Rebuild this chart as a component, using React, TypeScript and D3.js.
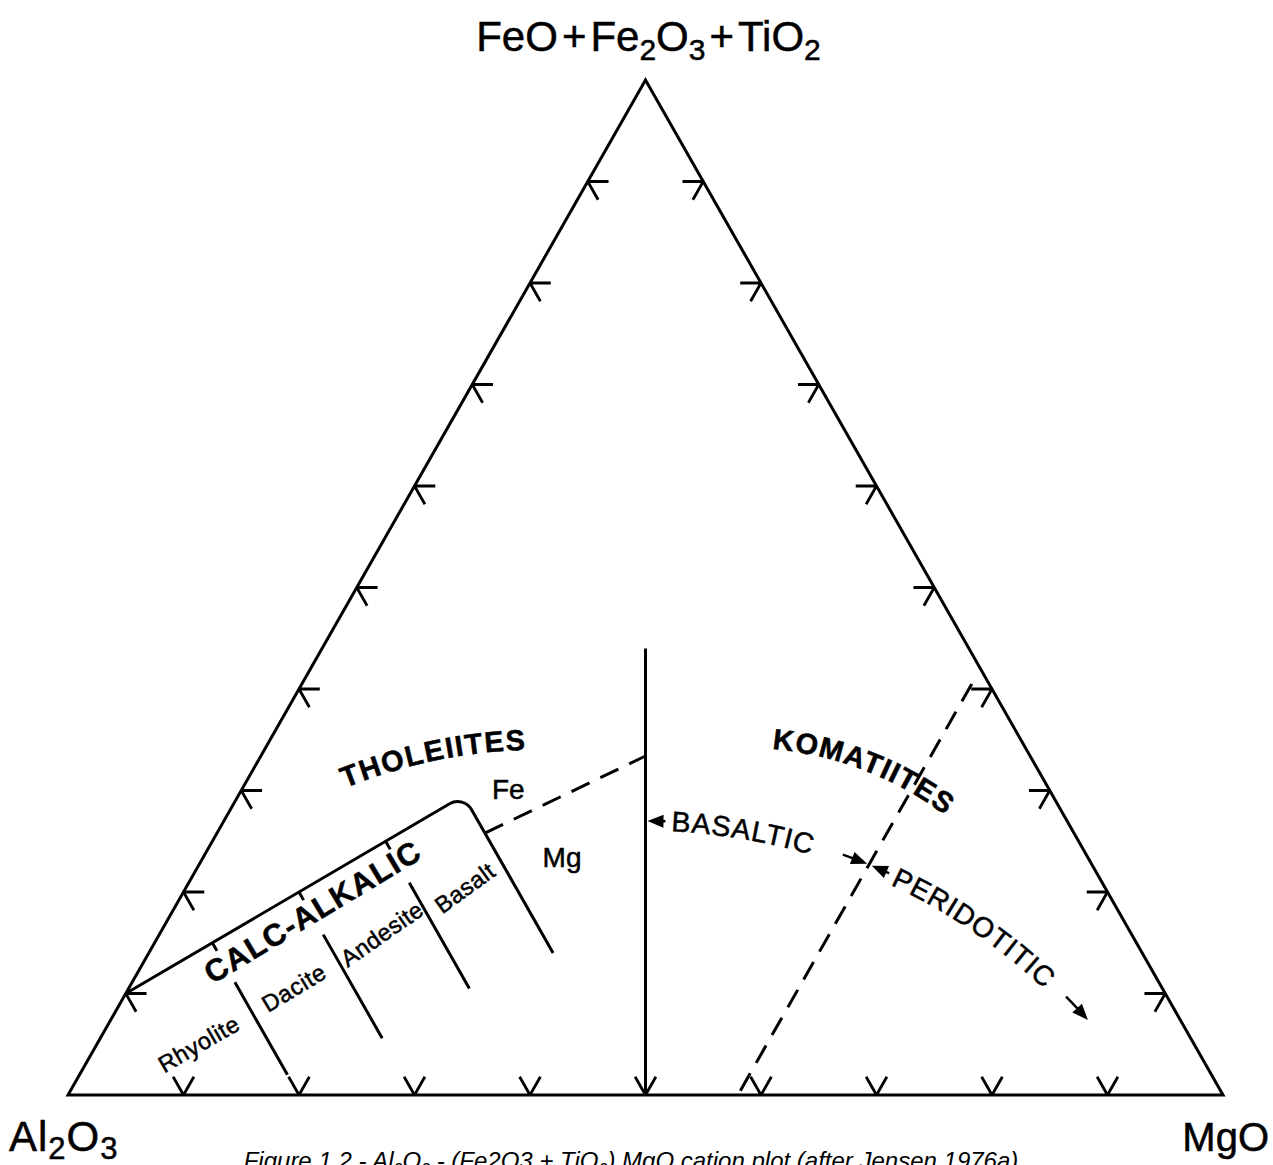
import React from "react";
import * as d3 from "d3";

// Compositions are cation percentages: [Al2O3, FeO+Fe2O3+TiO2, MgO]
type Comp = [number, number, number];

const WIDTH = 1273;
const HEIGHT = 1165;

const tickValues = [10, 20, 30, 40, 50, 60, 70, 80, 90];

// Calc-alkaline / tholeiitic boundary with its knee, then down the basalt side
const calcAlkalicBoundary: Comp[] = [
  [90, 10, 0],
  [51, 29.5, 19.5],
  [51, 14, 35],
];

// Rhyolite | Dacite | Andesite | Basalt divisions (constant Al2O3)
const divisionAl = [80, 70, 60];
const divisionFeTop = [11.1, 15.8, 20.9];
const divisionFeBottom = [2, 5.6, 10.5];

// Tholeiite / komatiite boundary (vertical, Al2O3 = MgO)
const tholeiiteKomatiite: Comp[] = [
  [28, 44, 28],
  [50, 0, 50],
];

// High-Fe / high-Mg tholeiite division (dashed)
const feMgDivision: Comp[] = [
  [51, 25.8, 23.2],
  [33.3, 33.4, 33.3],
];

// Basaltic / peridotitic komatiite division (dashed, constant MgO)
const komatiiteDivision: Comp[] = [
  [1.5, 40.5, 58],
  [42, 0, 58],
];

// Arc carrying the BASALTIC and PERIDOTITIC arrows
const komatiiteArc: Comp[] = [
  [36.5, 27, 36.5],
  [19.3, 22.7, 58],
  [8, 7.4, 84.6],
];

// Baselines of the curved field names
const tholeiitesArc: Comp[] = [
  [60.89, 30.25, 8.86],
  [54.4, 32.32, 13.28],
  [43.44, 33.99, 22.57],
];
const komatiitesArc: Comp[] = [
  [22, 34.1, 43.9],
  [14.04, 31.33, 54.63],
  [10.8, 28.28, 60.92],
];

// Straight labels inside the diagram
const labelText = ["CALC-ALKALIC", "Fe", "Mg", "Rhyolite", "Dacite", "Andesite", "Basalt"];
const labelComp: Comp[] = [
  [69.8, 18.03, 12.17],
  [46.85, 30.05, 23.1],
  [45.55, 23.35, 31.1],
  [86.15, 5.02, 8.83],
  [75.16, 10.54, 14.3],
  [64.88, 15.86, 19.26],
  [55.44, 20.39, 24.17],
];
const labelAngle = [-31, 0, 0, -30, -31, -35, -36];
const labelSize = [31, 28, 28, 23.5, 23.5, 23.5, 23.5];
const labelWeight = ["bold", "normal", "normal", "normal", "normal", "normal", "normal"];
const labelSpacing = [1.2, 0, 0, 0.6, 0.6, 0.4, 0.4];

const FONT = "'Liberation Sans', Arial, Helvetica, sans-serif";

function circleThrough(p1: number[], p2: number[], p3: number[]) {
  const [x1, y1] = p1, [x2, y2] = p2, [x3, y3] = p3;
  const d = 2 * (x1 * (y2 - y3) + x2 * (y3 - y1) + x3 * (y1 - y2));
  const s1 = x1 * x1 + y1 * y1, s2 = x2 * x2 + y2 * y2, s3 = x3 * x3 + y3 * y3;
  const cx = (s1 * (y2 - y3) + s2 * (y3 - y1) + s3 * (y1 - y2)) / d;
  const cy = (s1 * (x3 - x2) + s2 * (x1 - x3) + s3 * (x2 - x1)) / d;
  return { cx, cy, r: Math.hypot(x1 - cx, y1 - cy) };
}

export default function App() {
  const x = d3.scaleLinear().domain([0, 100]).range([68, 1223]);
  const y = d3.scaleLinear().domain([0, 100]).range([1095, 80]);
  const P = (c: Comp): [number, number] => [x(c[2] + c[1] / 2), y(c[1])];
  const line = d3.line();
  const seg = (a: Comp, b: Comp) => line([P(a), P(b)]) as string;

  // Triangle outline
  const outline = line([P([100, 0, 0]), P([0, 100, 0]), P([0, 0, 100])]) + "Z";

  // Arrow-like ticks on each side
  const d = 1.8;
  let ticks = "";
  tickValues.forEach((t) => {
    // base (MgO axis)
    ticks += seg([100 - t, d, t - d], [100 - t, 0, t]) + seg([100 - t, 0, t], [100 - t - d, d, t]);
    // left side
    ticks += seg([100 - t - d, t, d], [100 - t, t, 0]) + seg([100 - t, t, 0], [100 - t, t - d, d]);
    // right side
    ticks += seg([d, t, 100 - t - d], [0, t, 100 - t]) + seg([0, t, 100 - t], [d, t - d, 100 - t]);
  });

  // Calc-alkalic outline with a rounded knee
  const [b0, b1, b2] = calcAlkalicBoundary.map(P);
  const caPath = d3.path();
  caPath.moveTo(b0[0], b0[1]);
  caPath.arcTo(b1[0], b1[1], b2[0], b2[1], 16);
  caPath.lineTo(b2[0], b2[1]);

  // Division lines and their ticks on the boundary
  const [bA, bF] = [calcAlkalicBoundary[0], calcAlkalicBoundary[1]];
  let divisions = "";
  divisionAl.forEach((a, i) => {
    const t = (bA[0] - a) / (bA[0] - bF[0]);
    const fb = bA[1] + t * (bF[1] - bA[1]);
    divisions += seg([a, fb, 100 - a - fb], [a, fb - 0.8, 100 - a - fb + 0.8]);
    const ft = divisionFeTop[i], fbo = divisionFeBottom[i];
    divisions += seg([a, ft, 100 - a - ft], [a, fbo, 100 - a - fbo]);
  });

  // Arc geometry helpers
  const arcOf = (pts: Comp[]) => {
    const q = pts.map(P);
    const c = circleThrough(q[0], q[1], q[2]);
    const ang = q.map((p) => Math.atan2(p[1] - c.cy, p[0] - c.cx));
    return { ...c, ang };
  };
  const arcPath = (c: { cx: number; cy: number; r: number }, a0: number, a1: number) => {
    const p = d3.path();
    p.moveTo(c.cx + c.r * Math.cos(a0), c.cy + c.r * Math.sin(a0));
    p.arc(c.cx, c.cy, c.r, a0, a1, false);
    return p.toString();
  };
  const at = (c: { cx: number; cy: number; r: number }, a: number) => [c.cx + c.r * Math.cos(a), c.cy + c.r * Math.sin(a)];
  const arrowHead = (c: { cx: number; cy: number; r: number }, aTip: number, forward: boolean) => {
    const L = 16, w = 6.5;
    const tip = at(c, aTip);
    const base = at(c, aTip + (forward ? -L : L) / c.r);
    const dx = tip[0] - base[0], dy = tip[1] - base[1];
    const n = Math.hypot(dx, dy);
    const nx = -dy / n, ny = dx / n;
    return `M${tip[0]},${tip[1]}L${base[0] + nx * w},${base[1] + ny * w}L${base[0] - nx * w},${base[1] - ny * w}Z`;
  };

  const kArc = arcOf(komatiiteArc);
  const [k1, k2, k3] = kArc.ang;
  const basalticPath = arcPath(kArc, k1, k2);
  const peridotiticPath = arcPath(kArc, k2, k3);
  const sA = (a: number, s: number) => a + s / kArc.r;
  const arrows =
    arrowHead(kArc, sA(k1, 2), false) +
    arrowHead(kArc, sA(k2, -2), true) +
    arrowHead(kArc, sA(k2, 3), false) +
    arrowHead(kArc, k3, true);
  const arrowStems =
    arcPath(kArc, sA(k1, 14), sA(k1, 20)) +
    arcPath(kArc, sA(k2, -28), sA(k2, -14)) +
    arcPath(kArc, sA(k2, 15), sA(k2, 22)) +
    arcPath(kArc, sA(k3, -32), sA(k3, -14));

  const thArc = arcOf(tholeiitesArc);
  const thPath = arcPath(thArc, thArc.ang[0], thArc.ang[0] + 1.2);
  const koArc = arcOf(komatiitesArc);
  const koPath = arcPath(koArc, koArc.ang[0], koArc.ang[0] + 1.2);

  const stroke = { fill: "none", stroke: "#000", strokeWidth: 3 };
  // slight outline so the type reads as heavy as the printed lettering
  const ink = { stroke: "#000", strokeWidth: 0.5 };

  return (
    <svg
      width={WIDTH}
      height={HEIGHT}
      style={{ position: "absolute", left: 0, top: 0, background: "#fff" }}
      fontFamily={FONT}
    >
      <defs>
        <path id="basaltic-arc" d={basalticPath} />
        <path id="peridotitic-arc" d={peridotiticPath} />
        <path id="tholeiites-arc" d={thPath} />
        <path id="komatiites-arc" d={koPath} />
      </defs>
      <rect width={WIDTH} height={HEIGHT} fill="#fff" />

      <path d={outline} {...stroke} strokeLinejoin="miter" />
      <path d={ticks} {...stroke} strokeWidth={2.8} />

      <path d={caPath.toString()} {...stroke} />
      <path d={divisions} {...stroke} />
      <path d={seg(tholeiiteKomatiite[0], tholeiiteKomatiite[1])} {...stroke} />
      <path d={seg(feMgDivision[0], feMgDivision[1])} {...stroke} strokeDasharray="20 12" />
      <path d={seg(komatiiteDivision[0], komatiiteDivision[1])} {...stroke} strokeDasharray="20 12" />

      <path d={arrowStems} {...stroke} strokeWidth={2.5} />
      <path d={arrows} fill="#000" />

      <text fontSize={28.5} dominantBaseline="central" letterSpacing={1.2} {...ink}>
        <textPath href="#basaltic-arc" startOffset={26}>BASALTIC</textPath>
      </text>
      <text fontSize={28} dominantBaseline="central" letterSpacing={1.2} {...ink}>
        <textPath href="#peridotitic-arc" startOffset={28}>PERIDOTITIC</textPath>
      </text>
      <text fontSize={29} fontWeight="bold" letterSpacing={1.6} {...ink}>
        <textPath href="#tholeiites-arc" startOffset={0}>THOLEIITES</textPath>
      </text>
      <text fontSize={29} fontWeight="bold" letterSpacing={1.2} {...ink}>
        <textPath href="#komatiites-arc" startOffset={0}>KOMATIITES</textPath>
      </text>

      {labelText.map((t, i) => {
        const [px, py] = P(labelComp[i]);
        return (
          <text
            key={t}
            x={px}
            y={py}
            fontSize={labelSize[i]}
            fontWeight={labelWeight[i]}
            letterSpacing={labelSpacing[i]}
            textAnchor="middle"
            dominantBaseline="central"
            transform={`rotate(${labelAngle[i]},${px},${py})`}
            {...ink}
          >
            {t}
          </text>
        );
      })}

      {/* Apex labels */}
      <text x={x(50) + 3} y={51} fontSize={42} textAnchor="middle" {...ink}>
        <tspan>FeO</tspan>
        <tspan dx={4}>+</tspan>
        <tspan dx={4}>Fe</tspan>
        <tspan fontSize={30} dy={9}>2</tspan>
        <tspan dy={-9}>O</tspan>
        <tspan fontSize={30} dy={9}>3</tspan>
        <tspan dy={-9} dx={4}>+</tspan>
        <tspan dx={4}>TiO</tspan>
        <tspan fontSize={30} dy={9}>2</tspan>
      </text>
      <text x={9} y={1151} fontSize={42} letterSpacing={1} {...ink}>
        <tspan>Al</tspan>
        <tspan fontSize={31} dy={8}>2</tspan>
        <tspan dy={-8}>O</tspan>
        <tspan fontSize={31} dy={8}>3</tspan>
      </text>
      <text x={1269} y={1151} fontSize={40} textAnchor="end" {...ink}>
        MgO
      </text>

      <text x={631} y={1169} fontSize={24} fontStyle="italic" textAnchor="middle">
        <tspan>Figure 1.2 - Al</tspan>
        <tspan fontSize={16} dy={6}>2</tspan>
        <tspan dy={-6}>O</tspan>
        <tspan fontSize={16} dy={6}>3</tspan>
        <tspan dy={-6}> - (Fe2O3 + TiO</tspan>
        <tspan fontSize={16} dy={6}>2</tspan>
        <tspan dy={-6}>) MgO cation plot (after Jensen 1976a)</tspan>
      </text>
    </svg>
  );
}
